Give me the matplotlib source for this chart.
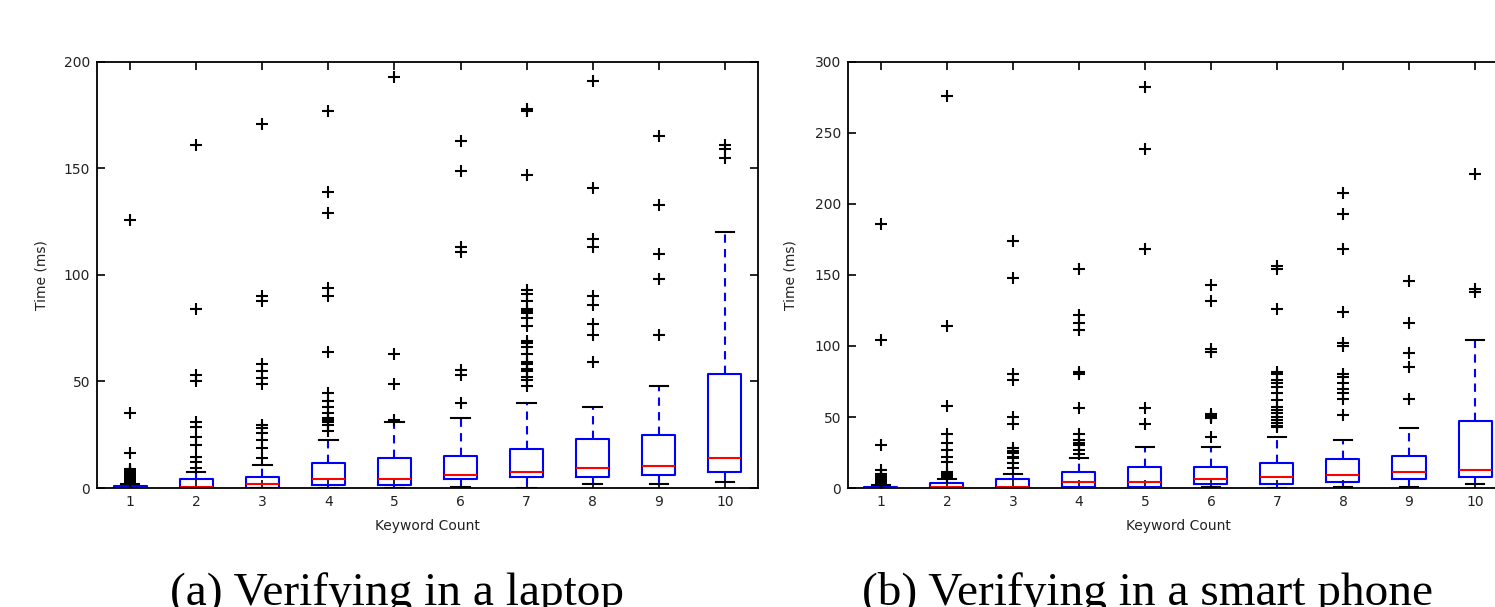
import matplotlib
matplotlib.use("Agg")
import matplotlib.pyplot as plt

# keyword counts on the x axis
keywords = [1, 2, 3, 4, 5, 6, 7, 8, 9, 10]

# (a) laptop, box statistics in ms
lap_q1 = [0, 0, 0, 1.4, 1.5, 4.2, 5.2, 5.2, 6.1, 7.5]
lap_med = [0, 0.6, 2.0, 4.2, 4.2, 6.1, 7.5, 9.4, 10.3, 14.0]
lap_q3 = [1.0, 4.2, 5.2, 11.7, 14.0, 15.0, 18.3, 23.0, 24.9, 53.5]
lap_lo = [0, 0, 0, 0, 0, 0.5, 0, 1.9, 1.9, 2.8]
lap_hi = [2.0, 7.5, 10.8, 22.5, 31.0, 32.8, 40.0, 38.0, 48.0, 120.0]
lap_fliers = [
    [3, 3.5, 4, 4.5, 5, 5.5, 6, 6.5, 7, 7.5, 8, 8.5, 9, 16.4, 35, 126],
    [9.4, 12, 14.6, 20, 24, 28.6, 31, 50, 53, 84, 161],
    [14, 18.8, 22.5, 25.8, 28, 29.6, 49, 51.6, 55, 58, 88, 90, 171],
    [27, 29.6, 31, 32, 33, 35, 38, 41, 44.6, 64, 90, 94, 129, 139, 177],
    [32, 49, 63, 193],
    [40, 53, 55.4, 111, 113, 149, 163],
    [48, 50.7, 52, 55, 56, 58, 59, 63, 66, 68, 69, 76, 80, 82, 83, 84, 88,
     91, 93, 147, 177, 178],
    [59, 72, 77, 86, 90, 113, 117, 141, 191],
    [72, 98, 110, 133, 165],
    [155, 159, 161],
]

# (b) smart phone, box statistics in ms
ph_q1 = [0, 0, 0, 0.7, 0.7, 2.8, 2.8, 4.2, 6.3, 7.7]
ph_med = [0, 0.7, 0.7, 4.2, 4.2, 6.3, 7.7, 9.2, 11.3, 12.7]
ph_q3 = [1.0, 3.5, 6.3, 11.3, 14.8, 14.8, 17.6, 20.4, 22.5, 47.0]
ph_lo = [0, 0, 0, 0, 0, 0.7, 0, 0.7, 0.7, 2.8]
ph_hi = [2.0, 6.3, 10.0, 21.0, 29.0, 29.0, 36.0, 34.0, 42.0, 104.0]
ph_fliers = [
    [2.5, 3, 3.5, 4, 4.5, 5, 5.5, 6, 6.5, 7, 7.5, 8, 9, 10, 13, 30, 104, 186],
    [8, 9, 10, 11, 18, 22, 27, 32, 38, 58, 114, 276],
    [14, 17.6, 21, 22, 24.6, 26, 28, 45, 50, 76, 80, 148, 174],
    [24, 27, 30, 32, 34, 38, 56, 80, 82, 111, 116, 122, 154],
    [45, 56, 168, 239, 282],
    [36, 49, 50, 51, 52, 96, 98, 132, 143],
    [43, 44, 46, 48, 50, 53, 55, 57, 62, 67, 71, 74, 76, 80, 82, 126, 154, 156],
    [51.4, 63, 67, 70, 74, 78, 80, 100, 102, 124, 168, 193, 208],
    [63, 85, 95, 116, 146],
    [138, 140, 221],
]

captions = ["(a) Verifying in a laptop", "(b) Verifying in a smart phone"]
ylims = [200, 300]
yticks = [[0, 50, 100, 150, 200], [0, 50, 100, 150, 200, 250, 300]]


def make_stats(q1, med, q3, lo, hi, fliers):
    stats = []
    for i in range(len(q1)):
        stats.append(dict(q1=q1[i], med=med[i], q3=q3[i], whislo=lo[i],
                          whishi=hi[i], fliers=fliers[i]))
    return stats


def draw_panel(ax, stats, ymax, ticks, ylab_x):
    ax.bxp(stats, positions=keywords, widths=0.5,
           boxprops=dict(color="blue", linewidth=1.5),
           medianprops=dict(color="red", linewidth=1.5),
           whiskerprops=dict(color="blue", linewidth=1.5, linestyle=(0, (4, 3))),
           capprops=dict(color="black", linewidth=1.5),
           capwidths=0.28,
           flierprops=dict(marker="+", markeredgecolor="black",
                           markersize=9, markeredgewidth=1.5, linestyle="none"))
    ax.set_xlim(0.5, 10.5)
    ax.set_ylim(0, ymax)
    ax.set_xticks(keywords)
    ax.set_xticklabels([str(k) for k in keywords])
    ax.set_yticks(ticks)
    ax.tick_params(direction="in", top=True, right=True, length=6, width=1.2,
                   labelsize=10, pad=5, labelcolor="#222222")
    for sp in ax.spines.values():
        sp.set_linewidth(1.3)
    ax.set_xlabel("Keyword Count", fontsize=10, color="#222222")
    ax.set_ylabel("Time (ms)", fontsize=10, color="#222222")
    ax.xaxis.set_label_coords(0.5, -0.073)
    ax.yaxis.set_label_coords(ylab_x, 0.5)


fig = plt.figure(figsize=(14.95, 6.07), dpi=100)
ax1 = fig.add_axes([0.0649, 0.196, 0.4421, 0.702])
ax2 = fig.add_axes([0.5672, 0.196, 0.4415, 0.702])

draw_panel(ax1, make_stats(lap_q1, lap_med, lap_q3, lap_lo, lap_hi, lap_fliers),
           ylims[0], yticks[0], -0.074)
draw_panel(ax2, make_stats(ph_q1, ph_med, ph_q3, ph_lo, ph_hi, ph_fliers),
           ylims[1], yticks[1], -0.076)

fig.text(396.5 / 1495, 0.004, captions[0], ha="center", va="baseline",
         fontsize=34, family="Liberation Serif")
fig.text(1147 / 1495, 0.004, captions[1], ha="center", va="baseline",
         fontsize=34, family="Liberation Serif")

fig.savefig("out.png", dpi=100)
